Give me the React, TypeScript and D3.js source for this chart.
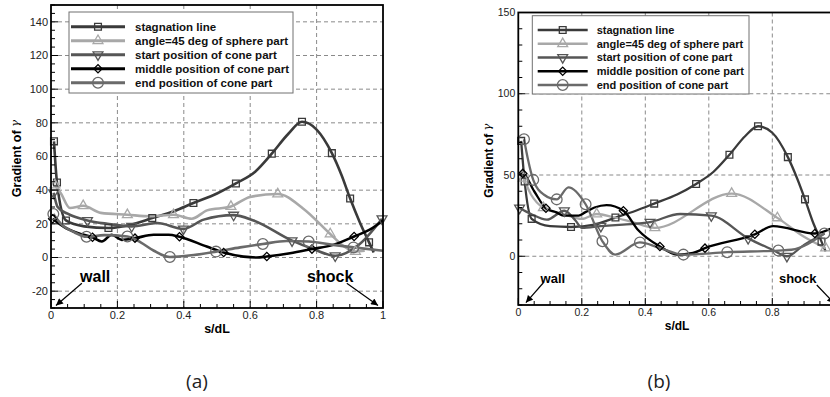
import React from 'react';
import * as d3 from 'd3';

// [s/dL, gradient, 1 = draw marker]
type Pt = [number, number, number?];

const X_TICKS = [0, 0.2, 0.4, 0.6, 0.8, 1];
const Y_TICKS_A = [-20, 0, 20, 40, 60, 80, 100, 120, 140];
const Y_TICKS_B = [0, 50, 100, 150];

const SERIES_NAMES = [
  'stagnation line',
  'angle=45 deg of sphere part',
  'start position of cone part',
  'middle position of cone part',
  'end position of cone part',
];

// ---- panel (a) ----
const stagA: Pt[] = [
  [0.009, 69, 1], [0.018, 44.6, 1], [0.045, 22, 1], [0.1, 18.5], [0.173, 17.5, 1], [0.24, 19.5],
  [0.305, 23.4, 1], [0.37, 27.5], [0.429, 32.4, 1], [0.5, 38], [0.557, 44, 1], [0.615, 51],
  [0.665, 61.7, 1], [0.715, 73.5], [0.756, 80.6, 1], [0.8, 76], [0.846, 62, 1], [0.875, 49],
  [0.901, 35, 1], [0.93, 21], [0.958, 9, 1], [0.972, 3],
];
const angleA: Pt[] = [
  [0.012, 43, 1], [0.03, 38], [0.057, 29.4], [0.097, 30.7, 1], [0.15, 26.5], [0.23, 25.4, 1],
  [0.3, 24.5], [0.369, 25.4, 1], [0.424, 23], [0.47, 28], [0.542, 30.3, 1], [0.6, 36],
  [0.683, 37.7, 1], [0.76, 29], [0.841, 14, 1], [0.88, 7], [0.917, 3.6, 1], [0.945, 4],
];
const startA: Pt[] = [
  [0.008, 38.5, 1], [0.02, 30], [0.05, 26], [0.11, 22, 1], [0.17, 20], [0.243, 18.5, 1],
  [0.32, 20.5], [0.399, 17, 1], [0.46, 22.5], [0.55, 25.2, 1], [0.61, 22], [0.726, 10, 1],
  [0.79, 5], [0.856, 1, 1], [0.93, 8], [0.997, 23, 1],
];
const middleA: Pt[] = [
  [0.005, 23, 1], [0.04, 18], [0.08, 14.5], [0.125, 12, 1], [0.153, 9.5], [0.183, 13.5],
  [0.213, 10.5], [0.253, 11.5, 1], [0.309, 13.5], [0.354, 13.5], [0.387, 12.3, 1], [0.469, 6.5],
  [0.52, 3, 1], [0.58, 0.5], [0.62, 0], [0.65, 0.6, 1], [0.72, 2.5], [0.786, 5, 1], [0.85, 7.5],
  [0.913, 12.5, 1], [0.96, 16.5], [1.0, 22],
];
const endA: Pt[] = [
  [0.007, 25.8, 1], [0.03, 20], [0.07, 15], [0.107, 12.3, 1], [0.16, 13.3], [0.23, 12.5, 1],
  [0.27, 9], [0.31, 4], [0.358, 0.3, 1], [0.43, 1.5], [0.497, 3.5, 1], [0.57, 6], [0.638, 8, 1],
  [0.71, 9.8], [0.776, 9.5, 1], [0.85, 7.5], [0.911, 6, 1], [1.0, 4],
];

// ---- panel (b) ----
const stagB: Pt[] = [
  [0.009, 71, 1], [0.02, 46, 1], [0.042, 23, 1], [0.1, 18.5], [0.166, 18, 1], [0.24, 19.5],
  [0.306, 23.8, 1], [0.37, 28], [0.428, 32.4, 1], [0.5, 38], [0.56, 44.5, 1], [0.615, 52],
  [0.665, 62.5, 1], [0.715, 74], [0.755, 80, 1], [0.8, 76], [0.849, 61, 1], [0.878, 48],
  [0.903, 35, 1], [0.93, 20], [0.955, 9, 1], [0.968, 3],
];
const angleB: Pt[] = [
  [0.006, 52], [0.016, 48, 1], [0.04, 38], [0.079, 29.8, 1], [0.142, 26], [0.2, 23],
  [0.247, 26, 1], [0.3, 24], [0.36, 21], [0.43, 17.5, 1], [0.672, 38.6, 1], [0.816, 23.6, 1],
  [0.9, 12], [0.968, 5, 1],
];
const startB: Pt[] = [
  [0.004, 29.7, 1], [0.04, 26], [0.09, 22.5], [0.145, 28, 1], [0.18, 22], [0.2, 17.5],
  [0.26, 18.5, 1], [0.33, 19.5], [0.415, 21, 1], [0.51, 26], [0.608, 25, 1], [0.724, 11, 1],
  [0.8, 4], [0.846, 0, 1], [0.9, 7], [0.965, 14],
];
const middleB: Pt[] = [
  [0.005, 50], [0.014, 51, 1], [0.05, 40], [0.087, 29.5, 1], [0.12, 27], [0.142, 25],
  [0.19, 25], [0.21, 27], [0.24, 30], [0.278, 31.5], [0.331, 28, 1], [0.378, 16], [0.446, 6, 1],
  [0.5, 1], [0.55, 2], [0.588, 5, 1], [0.745, 13.5, 1], [0.803, 18.5], [0.934, 14, 1], [0.985, 17],
];
const endB: Pt[] = [
  [0.018, 72, 1], [0.03, 60], [0.047, 47, 1], [0.08, 38], [0.121, 35, 1], [0.158, 42.4],
  [0.212, 32, 1], [0.265, 9.2, 1], [0.305, 1], [0.383, 8.5, 1], [0.44, 5.5], [0.52, 1, 1],
  [0.658, 2.5, 1], [0.819, 3.5, 1], [0.86, 4], [0.964, 14, 1],
];

const STYLES = [
  { color: '#3a3a3a', symbol: d3.symbolSquare, size: 46, rotate: 0 },
  { color: '#a8a8a8', symbol: d3.symbolTriangle, size: 42, rotate: 0 },
  { color: '#565656', symbol: d3.symbolTriangle, size: 42, rotate: 180 },
  { color: '#000000', symbol: d3.symbolSquare, size: 34, rotate: 45 },
  { color: '#6a6a6a', symbol: d3.symbolCircle, size: 90, rotate: 0 },
];

const FONT = 'Liberation Sans, Arial, sans-serif';
const WIDTH = 830;
const HEIGHT = 397;

interface PanelCfg {
  id: string;
  left: number; right: number; top: number; bottom: number;
  yTicks: number[]; yMinor: number;
  series: Pt[][];
  lineW: number;
  tickFont: number; labelFont: number; annFont: number; legendFont: number;
  yLabelX: number;
  legend: { x0: number; x1: number; y0: number; y1: number; lineX0: number; lineX1: number; textX: number; rowY0: number; rowStep: number };
  wall: { text: [number, number]; tail: [number, number]; tip: [number, number] };
  shock: { text: [number, number]; tail: [number, number]; tip: [number, number] };
  caption: string; captionX: number;
}

const PANELS: PanelCfg[] = [
  {
    id: 'a', left: 51, right: 383, top: 5, bottom: 308,
    yTicks: Y_TICKS_A, yMinor: 36,
    series: [stagA, angleA, startA, middleA, endA],
    lineW: 2.6, tickFont: 11, labelFont: 12.5, annFont: 16, legendFont: 11.5,
    yLabelX: 17,
    legend: { x0: 69, x1: 293, y0: 12, y1: 93, lineX0: 71, lineX1: 125, textX: 135, rowY0: 26.7, rowStep: 14 },
    wall: { text: [0.133, -11.4], tail: [0.093, -15.3], tip: [0.015, -28.5] },
    shock: { text: [0.841, -11.4], tail: [0.891, -15.3], tip: [0.985, -28.5] },
    caption: '(a)', captionX: 197,
  },
  {
    id: 'b', left: 518.3, right: 835.8, top: 12.5, bottom: 305,
    yTicks: Y_TICKS_B, yMinor: 18,
    series: [stagB, angleB, startB, middleB, endB],
    lineW: 2.3, tickFont: 10.5, labelFont: 12, annFont: 13, legendFont: 11,
    yLabelX: 489,
    legend: { x0: 532.3, x1: 749, y0: 15.7, y1: 94, lineX0: 537.7, lineX1: 587.7, textX: 596.7, rowY0: 30, rowStep: 13.75 },
    wall: { text: [0.109, -13.6], tail: [0.079, -16.3], tip: [0.024, -28.5] },
    shock: { text: [0.88, -13.6], tail: [0.94, -17.7], tip: [0.995, -29] },
    caption: '(b)', captionX: 659,
  },
];

const fmt = (v: number) => String(+v.toFixed(2));

const Marker: React.FC<{ x: number; y: number; s: number }> = ({ x, y, s }) => {
  const st = STYLES[s];
  const p = d3.symbol().type(st.symbol).size(st.size)() || '';
  return (
    <path d={p} transform={`translate(${x},${y}) rotate(${st.rotate})`} fill="none" stroke={st.color} strokeWidth={1.3} />
  );
};

const Panel: React.FC<{ cfg: PanelCfg }> = ({ cfg }) => {
  const x = d3.scaleLinear().domain([0, 1]).range([cfg.left, cfg.right]);
  const y = d3.scaleLinear().domain([-30, 150]).range([cfg.bottom, cfg.top]);
  const line = d3.line<Pt>().x(d => x(d[0])).y(d => y(d[1])).curve(d3.curveMonotoneX);
  const xMinor = x.ticks(20);
  const yMinor = y.ticks(cfg.yMinor);
  const lg = cfg.legend;
  const arrowId = `arrow-${cfg.id}`;
  const ann = (a: PanelCfg['wall'], label: string) => (
    <g>
      <line x1={x(a.tail[0])} y1={y(a.tail[1])} x2={x(a.tip[0])} y2={y(a.tip[1])} stroke="#000" strokeWidth={1.2} markerEnd={`url(#${arrowId})`} />
      <text x={x(a.text[0])} y={y(a.text[1])} dy="0.35em" textAnchor="middle" fontFamily={FONT} fontWeight="bold" fontSize={cfg.annFont}>{label}</text>
    </g>
  );

  return (
    <g>
      <defs>
        <marker id={arrowId} viewBox="0 0 10 10" refX={10} refY={5} markerWidth={9} markerHeight={7} markerUnits="userSpaceOnUse" orient="auto">
          <path d="M0,0 L10,5 L0,10 Z" fill="#000" />
        </marker>
      </defs>
      {/* grid */}
      {cfg.yTicks.filter(t => t > -30 && t < 150).map(t => (
        <line key={`gy${t}`} x1={cfg.left} x2={cfg.right} y1={y(t)} y2={y(t)} stroke="#8a8a8a" strokeWidth={1} strokeDasharray="4,3" />
      ))}
      {X_TICKS.filter(t => t > 0 && t < 1).map(t => (
        <line key={`gx${t}`} x1={x(t)} x2={x(t)} y1={cfg.top} y2={cfg.bottom} stroke="#8a8a8a" strokeWidth={1} strokeDasharray="4,3" />
      ))}

      {/* legend */}
      <rect x={lg.x0} y={lg.y0} width={lg.x1 - lg.x0} height={lg.y1 - lg.y0} fill="#fff" stroke="#707070" strokeWidth={1} />
      {SERIES_NAMES.map((name, i) => {
        const ry = lg.rowY0 + i * lg.rowStep;
        return (
          <g key={name}>
            <line x1={lg.lineX0} x2={lg.lineX1} y1={ry} y2={ry} stroke={STYLES[i].color} strokeWidth={cfg.lineW + 0.4} />
            <Marker x={(lg.lineX0 + lg.lineX1) / 2} y={ry} s={i} />
            <text x={lg.textX} y={ry} dy="0.36em" fontFamily={FONT} fontWeight="bold" fontSize={cfg.legendFont} fill="#111">{name}</text>
          </g>
        );
      })}

      {/* series */}
      {cfg.series.map((pts, i) => (
        <path key={`s${i}`} d={line(pts) || ''} fill="none" stroke={STYLES[i].color} strokeWidth={cfg.lineW} strokeLinejoin="round" />
      ))}
      {cfg.series.map((pts, i) => pts.filter(p => p[2]).map((p, j) => (
        <Marker key={`m${i}-${j}`} x={x(p[0])} y={y(p[1])} s={i} />
      )))}

      {/* frame */}
      <rect x={cfg.left} y={cfg.top} width={cfg.right - cfg.left} height={cfg.bottom - cfg.top} fill="none" stroke="#000" strokeWidth={1.8} />

      {/* ticks (inward) */}
      {yMinor.map(t => (
        <line key={`ym${t}`} x1={cfg.left} x2={cfg.left + (cfg.yTicks.includes(t) ? 7 : 4)} y1={y(t)} y2={y(t)} stroke="#000" strokeWidth={1} />
      ))}
      {xMinor.map(t => (
        <line key={`xm${t}`} x1={x(t)} x2={x(t)} y1={cfg.bottom} y2={cfg.bottom - (X_TICKS.some(v => Math.abs(v - t) < 1e-9) ? 7 : 4)} stroke="#000" strokeWidth={1} />
      ))}
      {cfg.yTicks.map(t => (
        <text key={`yl${t}`} x={cfg.left - 3} y={y(t)} dy="0.35em" textAnchor="end" fontFamily={FONT} fontSize={cfg.tickFont} fill="#222">{t}</text>
      ))}
      {X_TICKS.filter(t => x(t) < WIDTH - 4).map(t => (
        <text key={`xl${t}`} x={x(t)} y={cfg.bottom + 11} textAnchor="middle" fontFamily={FONT} fontSize={cfg.tickFont} fill="#222">{fmt(t)}</text>
      ))}

      {/* axis titles */}
      <text x={(cfg.left + cfg.right) / 2} y={cfg.bottom + 25} textAnchor="middle" fontFamily={FONT} fontWeight="bold" fontSize={cfg.labelFont}>s/dL</text>
      <text transform={`translate(${cfg.yLabelX},${(y(-30) + y(150)) / 2 + 2}) rotate(-90)`} textAnchor="middle" fontFamily={FONT} fontSize={cfg.labelFont} dy="0.35em">
        <tspan fontWeight="bold">Gradient of </tspan>
        <tspan fontStyle="italic" fontFamily="DejaVu Serif, serif" fontSize={cfg.labelFont * 0.95} dy="-2">γ</tspan>
      </text>

      {ann(cfg.wall, 'wall')}
      {ann(cfg.shock, 'shock')}

      <text x={cfg.captionX} y={381} dy="0.35em" textAnchor="middle" fontFamily="Open Sans, sans-serif" fontSize={19} fill="#222">{cfg.caption}</text>
    </g>
  );
};

export default function App() {
  return (
    <svg width={WIDTH} height={HEIGHT} style={{ position: 'absolute', left: 0, top: 0, background: '#fff' }}>
      <rect width={WIDTH} height={HEIGHT} fill="#fff" />
      {PANELS.map(cfg => <Panel key={cfg.id} cfg={cfg} />)}
    </svg>
  );
}
